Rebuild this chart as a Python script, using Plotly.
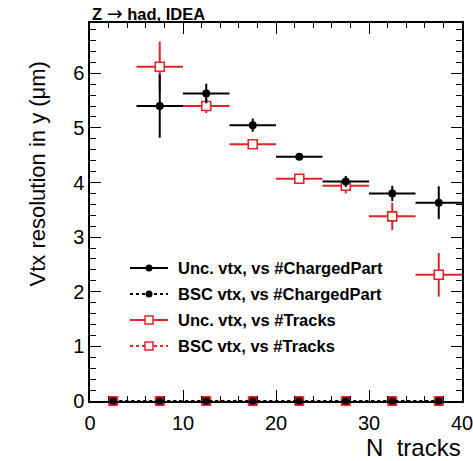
import plotly.graph_objects as go

# Bin centres (N tracks) and half bin width
bin_centres = [2.5, 7.5, 12.5, 17.5, 22.5, 27.5, 32.5, 37.5]
bin_half_width = [2.5, 2.5, 2.5, 2.5, 2.5, 2.5, 2.5, 2.5]

# Unconstrained vertex resolution in y (um)
unc_charged = [None, 5.40, 5.63, 5.05, 4.47, 4.02, 3.80, 3.63]
unc_charged_err = [None, 0.58, 0.18, 0.12, 0.05, 0.10, 0.14, 0.30]
unc_tracks = [None, 6.12, 5.40, 4.70, 4.07, 3.94, 3.38, 2.31]
unc_tracks_err = [None, 0.46, 0.13, 0.05, 0.05, 0.14, 0.25, 0.40]

# Beam-spot constrained vertex resolution in y (um)
bsc_charged = [0, 0, 0, 0, 0, 0, 0, 0]
bsc_tracks = [0, 0, 0, 0, 0, 0, 0, 0]

legend_labels = [
    "Unc. vtx, vs #ChargedPart",
    "BSC vtx, vs #ChargedPart",
    "Unc. vtx, vs #Tracks",
    "BSC vtx, vs #Tracks",
]

BLACK = "#000000"
RED = "#e3232a"
FONT = "Liberation Sans, Arial, Helvetica, sans-serif"

W, H = 473, 461
ML, MR, MT, MB = 90, 11, 23, 60
PW, PH = W - ML - MR, H - MT - MB


def px_x(p):
    return (p - ML) / PW


def px_y(p):
    return (H - MB - p) / PH


fig = go.Figure()

# BSC series sit on the x axis
fig.add_trace(go.Scatter(
    x=bin_centres, y=bsc_tracks, mode="lines+markers",
    line=dict(color=RED, width=2, dash="dot"),
    marker=dict(symbol="square", size=9, color="#c8181f",
                line=dict(color=RED, width=1)),
    cliponaxis=False, showlegend=False))
fig.add_trace(go.Scatter(
    x=bin_centres, y=bsc_charged, mode="lines+markers",
    line=dict(color=BLACK, width=2, dash="dot"),
    marker=dict(symbol="circle", size=7, color=BLACK),
    cliponaxis=False, showlegend=False))

# Unconstrained vertex vs #Tracks
fig.add_trace(go.Scatter(
    x=bin_centres, y=unc_tracks, mode="markers",
    marker=dict(symbol="square", size=9, color="white",
                line=dict(color=RED, width=1.6)),
    error_x=dict(type="data", array=bin_half_width, color=RED,
                 thickness=2, width=0),
    error_y=dict(type="data", array=unc_tracks_err, color=RED,
                 thickness=2, width=0),
    showlegend=False))

# Unconstrained vertex vs #ChargedPart
fig.add_trace(go.Scatter(
    x=bin_centres, y=unc_charged, mode="markers",
    marker=dict(symbol="circle", size=8, color=BLACK),
    error_x=dict(type="data", array=bin_half_width, color=BLACK,
                 thickness=2, width=0),
    error_y=dict(type="data", array=unc_charged_err, color=BLACK,
                 thickness=2, width=0),
    showlegend=False))

# Hand-drawn legend: line sample, marker sample and label per row
shapes = []
annotations = []
row_y = [268, 294, 320, 346]
styles = [
    (BLACK, "solid", "circle"),
    (BLACK, "dot", "circle"),
    (RED, "solid", "square"),
    (RED, "dot", "square"),
]
for yy, (col, dash, sym), label in zip(row_y, styles, legend_labels):
    shapes.append(dict(type="line", xref="paper", yref="paper",
                       x0=px_x(130), x1=px_x(168), y0=px_y(yy), y1=px_y(yy),
                       line=dict(color=col, width=2, dash=dash)))
    if sym == "circle":
        shapes.append(dict(type="circle", xref="paper", yref="paper",
                           x0=px_x(145.5), x1=px_x(152.5),
                           y0=px_y(yy + 3.5), y1=px_y(yy - 3.5),
                           fillcolor=BLACK, line=dict(color=BLACK, width=0)))
    else:
        shapes.append(dict(type="rect", xref="paper", yref="paper",
                           x0=px_x(145), x1=px_x(153),
                           y0=px_y(yy + 4), y1=px_y(yy - 4),
                           fillcolor="white", line=dict(color=RED, width=1.5)))
    annotations.append(dict(text="<b>%s</b>" % label, xref="paper", yref="paper",
                            x=px_x(176), y=px_y(yy), xanchor="left",
                            yanchor="middle", showarrow=False,
                            font=dict(family=FONT, size=16.5, color=BLACK)))

# Titles
annotations.append(dict(
    text="<b>Z</b> <span style=\"font-family:'DejaVu Sans'; font-size:19px\">"
         "\u2192</span> <b>had, IDEA</b>",
    xref="paper", yref="paper",
    x=0, y=px_y(13), xanchor="left", yanchor="middle",
    showarrow=False,
    font=dict(family=FONT, size=16.5, color=BLACK)))
annotations.append(dict(text="Vtx resolution in y (\u03bcm)", xref="paper",
                        yref="paper", x=px_x(37), y=px_y(60),
                        xanchor="center", yanchor="top", textangle=-90,
                        showarrow=False,
                        font=dict(family=FONT, size=22, color=BLACK)))
annotations.append(dict(text="N  tracks", xref="paper", yref="paper",
                        x=px_x(463), y=px_y(447), xanchor="right",
                        yanchor="middle", showarrow=False,
                        font=dict(family=FONT, size=24, color=BLACK)))

axis_common = dict(
    showgrid=False, zeroline=False, showline=True, linecolor=BLACK,
    linewidth=1.5, mirror="allticks", ticks="inside", tickcolor=BLACK,
    tickwidth=1, ticklen=11, automargin=False, ticklabeloverflow="allow",
    tickfont=dict(family=FONT, size=20, color=BLACK),
)

fig.update_layout(
    width=W, height=H, autosize=False,
    margin=dict(l=ML, r=MR, t=MT, b=MB, autoexpand=False),
    paper_bgcolor="white", plot_bgcolor="white",
    showlegend=False,
    shapes=shapes, annotations=annotations,
    xaxis=dict(range=[0, 40], dtick=10, tick0=0, ticklabelstandoff=3,
               minor=dict(dtick=2, ticklen=5, ticks="inside",
                          tickcolor=BLACK, tickwidth=1, showgrid=False),
               **axis_common),
    yaxis=dict(range=[0, 6.92], dtick=1, tick0=0,
               minor=dict(dtick=0.2, ticklen=6, ticks="inside",
                          tickcolor=BLACK, tickwidth=1, showgrid=False),
               **axis_common),
)

fig.write_html("out.html")
